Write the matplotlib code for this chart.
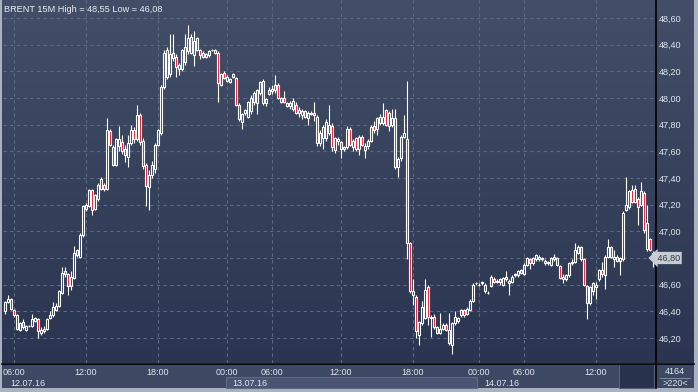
import numpy as np
import matplotlib
matplotlib.use('Agg')
from matplotlib import pyplot as plt
from matplotlib import transforms
from matplotlib.colors import LinearSegmentedColormap
from matplotlib.patches import Rectangle
from matplotlib.ticker import FuncFormatter

plt.rcParams['font.family'] = ['Liberation Sans', 'DejaVu Sans']

# BRENT 15M candles, 12.07.16 06:00 .. 14.07.16 ~14:00 (one row per session block)
opens = [
    46.40, 46.47, 46.49, 46.41, 46.37, 46.26, 46.32, 46.26, 46.29, 46.29, 46.33, 46.34, 46.24, 46.25, 46.27, 46.35, 46.37, 46.41, 46.44, 46.54, 46.70, 46.68, 46.59, 46.65, 46.86, 46.81, 46.97,
    47.17, 47.19, 47.31, 47.17, 47.24, 47.32, 47.35, 47.32, 47.75, 47.63, 47.50, 47.64, 47.67, 47.62, 47.56, 47.66, 47.76, 47.69, 47.87, 47.68, 47.50, 47.33, 47.42, 47.47,
    47.65, 47.74, 48.08, 48.36, 48.18, 48.30, 48.31, 48.22, 48.22, 48.27, 48.35, 48.46, 48.32, 48.45, 48.36, 48.34, 48.31, 48.32, 48.36, 48.36, 48.34, 48.10, 48.19,
    48.13, 48.12, 48.16, 48.15, 47.95, 47.82, 47.89, 47.86, 47.90, 47.97, 47.96, 48.04, 48.13, 47.96, 48.06, 48.05,
    48.10, 48.10, 47.97, 48.00, 47.96, 47.94, 47.92, 47.95, 47.89, 47.87, 47.90, 47.85, 47.88, 47.89, 47.86, 47.66, 47.70, 47.70, 47.74, 47.79, 47.61, 47.68, 47.67,
    47.62, 47.63, 47.77, 47.63, 47.70, 47.62, 47.71, 47.61, 47.64, 47.68, 47.79, 47.77, 47.81, 47.81, 47.91, 47.79, 47.80, 47.85, 47.48, 47.55, 47.71, 47.69, 46.91,
    46.55, 46.51, 46.22, 46.31, 46.35, 46.58, 46.35, 46.36, 46.28, 46.24, 46.27, 46.30, 46.26, 46.15, 46.31, 46.33, 46.37, 46.41, 46.38, 46.41, 46.48, 46.61, 46.60, 46.61, 46.60, 46.54, 46.59,
    46.64, 46.62, 46.62, 46.60, 46.66, 46.61, 46.62, 46.67, 46.67, 46.71, 46.68,
    46.75, 46.79, 46.76, 46.79, 46.81, 46.79, 46.78, 46.77, 46.75, 46.79, 46.80, 46.74, 46.66, 46.64, 46.67, 46.76, 46.77, 46.84, 46.88, 46.79, 46.59, 46.46, 46.55, 46.58,
    46.64, 46.71, 46.67, 46.81, 46.88, 46.79, 46.81, 46.78, 46.79, 47.16, 47.18, 47.31, 47.22, 47.24, 47.20, 47.29, 46.87, 46.94, 46.84,
]
highs = [
    46.48, 46.52, 46.50, 46.42, 46.38, 46.32, 46.34, 46.30, 46.30, 46.38, 46.36, 46.35, 46.28, 46.29, 46.35, 46.40, 46.47, 46.46, 46.56, 46.73, 46.73, 46.69, 46.70, 46.89, 46.87, 46.99, 47.20,
    47.21, 47.32, 47.32, 47.28, 47.36, 47.41, 47.36, 47.85, 47.77, 47.65, 47.70, 47.79, 47.72, 47.65, 47.72, 47.80, 47.78, 47.95, 47.89, 47.70, 47.51, 47.46, 47.53, 47.66,
    47.77, 48.10, 48.36, 48.38, 48.48, 48.48, 48.33, 48.26, 48.37, 48.48, 48.55, 48.48, 48.50, 48.46, 48.37, 48.35, 48.34, 48.36, 48.37, 48.37, 48.35, 48.19, 48.20,
    48.17, 48.15, 48.19, 48.16, 47.96, 47.89, 47.92, 47.98, 48.02, 48.05, 48.07, 48.13, 48.14, 48.00, 48.08, 48.10,
    48.17, 48.11, 48.01, 48.05, 47.97, 47.98, 48.00, 47.97, 47.93, 47.92, 47.91, 47.90, 47.90, 47.97, 47.87, 47.76, 47.80, 47.84, 47.95, 47.81, 47.71, 47.71, 47.68,
    47.64, 47.79, 47.78, 47.69, 47.71, 47.72, 47.72, 47.66, 47.69, 47.80, 47.83, 47.86, 47.88, 47.96, 47.92, 47.90, 47.92, 47.92, 47.56, 47.72, 47.87, 48.13, 46.92,
    46.64, 46.52, 46.33, 46.48, 46.64, 46.60, 46.37, 46.38, 46.29, 46.39, 46.31, 46.31, 46.39, 46.32, 46.40, 46.36, 46.42, 46.42, 46.43, 46.49, 46.61, 46.62, 46.61, 46.63, 46.61, 46.55, 46.67,
    46.66, 46.64, 46.65, 46.66, 46.70, 46.64, 46.67, 46.69, 46.71, 46.72, 46.76,
    46.81, 46.80, 46.81, 46.83, 46.82, 46.81, 46.79, 46.78, 46.81, 46.83, 46.81, 46.75, 46.68, 46.68, 46.77, 46.79, 46.91, 46.90, 46.89, 46.80, 46.60, 46.59, 46.62, 46.62,
    46.72, 46.77, 46.82, 46.94, 46.89, 46.86, 46.82, 46.81, 47.15, 47.41, 47.31, 47.35, 47.35, 47.26, 47.37, 47.30, 47.20, 46.95, 46.85,
]
lows = [
    46.38, 46.46, 46.41, 46.36, 46.26, 46.25, 46.27, 46.25, 46.28, 46.28, 46.32, 46.20, 46.22, 46.24, 46.26, 46.34, 46.36, 46.40, 46.43, 46.53, 46.66, 46.52, 46.56, 46.64, 46.81, 46.80, 46.96,
    47.15, 47.18, 47.12, 47.16, 47.23, 47.31, 47.30, 47.31, 47.64, 47.49, 47.49, 47.60, 47.58, 47.52, 47.48, 47.65, 47.66, 47.68, 47.65, 47.47, 47.19, 47.16, 47.40, 47.44,
    47.64, 47.72, 48.07, 48.14, 48.16, 48.28, 48.16, 48.17, 48.20, 48.25, 48.33, 48.33, 48.24, 48.35, 48.29, 48.30, 48.30, 48.31, 48.35, 48.33, 47.97, 48.09, 48.14,
    48.12, 48.11, 48.15, 47.94, 47.83, 47.77, 47.87, 47.85, 47.88, 47.95, 47.88, 48.02, 47.95, 47.94, 48.02, 48.03,
    48.04, 47.99, 47.96, 47.96, 47.93, 47.92, 47.90, 47.88, 47.86, 47.84, 47.85, 47.80, 47.87, 47.83, 47.64, 47.64, 47.62, 47.68, 47.72, 47.60, 47.59, 47.65, 47.55,
    47.60, 47.62, 47.64, 47.60, 47.60, 47.57, 47.64, 47.55, 47.62, 47.67, 47.74, 47.72, 47.80, 47.80, 47.79, 47.75, 47.78, 47.47, 47.41, 47.53, 47.70, 46.79, 46.54,
    46.45, 46.20, 46.15, 46.30, 46.34, 46.30, 46.21, 46.27, 46.23, 46.23, 46.26, 46.25, 46.15, 46.08, 46.30, 46.31, 46.36, 46.36, 46.37, 46.40, 46.47, 46.60, 46.59, 46.60, 46.54, 46.53, 46.58,
    46.61, 46.61, 46.60, 46.59, 46.63, 46.52, 46.61, 46.66, 46.66, 46.68, 46.67,
    46.74, 46.72, 46.75, 46.78, 46.78, 46.78, 46.75, 46.75, 46.74, 46.78, 46.74, 46.64, 46.61, 46.63, 46.66, 46.75, 46.76, 46.83, 46.78, 46.59, 46.34, 46.45, 46.52, 46.49,
    46.63, 46.66, 46.57, 46.80, 46.80, 46.73, 46.77, 46.67, 46.78, 47.15, 47.17, 47.21, 47.21, 47.05, 47.19, 46.99, 46.85, 46.85, 46.73,
]
closes = [
    46.47, 46.49, 46.42, 46.37, 46.27, 46.31, 46.28, 46.29, 46.29, 46.34, 46.35, 46.25, 46.26, 46.27, 46.34, 46.37, 46.43, 46.44, 46.55, 46.69, 46.68, 46.59, 46.66, 46.84, 46.82, 46.97, 47.19,
    47.20, 47.31, 47.16, 47.27, 47.35, 47.39, 47.32, 47.76, 47.65, 47.50, 47.69, 47.69, 47.60, 47.57, 47.66, 47.76, 47.69, 47.87, 47.67, 47.49, 47.34, 47.42, 47.50, 47.65,
    47.76, 48.08, 48.34, 48.16, 48.33, 48.34, 48.23, 48.25, 48.36, 48.38, 48.45, 48.34, 48.43, 48.36, 48.32, 48.31, 48.33, 48.35, 48.36, 48.34, 48.11, 48.18, 48.15,
    48.16, 48.14, 48.18, 47.95, 47.84, 47.88, 47.91, 47.97, 48.00, 48.04, 48.06, 48.12, 47.96, 47.99, 48.03, 48.07,
    48.06, 48.00, 48.00, 47.97, 47.94, 47.96, 47.98, 47.89, 47.91, 47.90, 47.86, 47.89, 47.89, 47.87, 47.66, 47.74, 47.78, 47.82, 47.80, 47.63, 47.70, 47.69, 47.62,
    47.63, 47.77, 47.65, 47.68, 47.62, 47.71, 47.65, 47.64, 47.68, 47.78, 47.76, 47.85, 47.86, 47.86, 47.80, 47.89, 47.85, 47.48, 47.54, 47.71, 47.74, 46.91, 46.55,
    46.52, 46.25, 46.32, 46.43, 46.56, 46.36, 46.36, 46.28, 46.24, 46.27, 46.30, 46.26, 46.16, 46.31, 46.36, 46.35, 46.41, 46.37, 46.42, 46.48, 46.60, 46.61, 46.60, 46.62, 46.55, 46.54, 46.66,
    46.62, 46.63, 46.64, 46.65, 46.64, 46.63, 46.66, 46.68, 46.70, 46.69, 46.75,
    46.80, 46.76, 46.80, 46.82, 46.79, 46.80, 46.76, 46.76, 46.80, 46.81, 46.75, 46.65, 46.64, 46.67, 46.76, 46.77, 46.86, 46.88, 46.79, 46.60, 46.46, 46.58, 46.61, 46.60,
    46.71, 46.68, 46.81, 46.88, 46.81, 46.81, 46.78, 46.80, 47.14, 47.20, 47.30, 47.22, 47.32, 47.18, 47.30, 47.01, 47.06, 46.86, 46.81,
]

tick_pos = [3, 27, 51, 74, 89, 112, 136, 158, 173, 197]
tick_lab = ['06:00', '12:00', '18:00', '00:00', '06:00', '12:00', '18:00', '00:00', '06:00', '12:00']
day_start = [0, 74, 158]
day_lab = ['12.07.16', '13.07.16', '14.07.16']
price_ticks = [46.2, 46.4, 46.6, 46.8, 47.0, 47.2, 47.4, 47.6, 47.8, 48.0, 48.2, 48.4, 48.6]
last_price = 46.80
title = 'BRENT 15M High = 48,55 Low = 46,08'
bar_total = '4164'
bar_shown = '>220<'

W, H = 698, 392
fig = plt.figure(figsize=(W / 100, H / 100), dpi=100, facecolor='#aab2c0')

def px_axes(x, y, w, h):
    return fig.add_axes([x / W, 1 - (y + h) / H, w / W, h / H])

def price_fmt(v, pos=None):
    return f'{v:.2f}'.replace('.', ',')

# main price area
ax = px_axes(3, 0, 652, 363)
ax.set_facecolor('none')
ax.set_zorder(2)
ax.set_xlim(-0.67, 216.67)
ax.set_ylim(46.0125, 48.735)

# background panels drawn in figure pixels
bg = fig.add_axes([0, 0, 1, 1])
bg.set_zorder(0)
bg.set_xlim(0, W)
bg.set_ylim(H, 0)
bg.axis('off')
grad = LinearSegmentedColormap.from_list('bg', ['#434f68', '#36415b', '#2b3551'])
bg.imshow(np.linspace(0, 1, 256).reshape(-1, 1), extent=(2, 694, 363, 0), cmap=grad, aspect='auto')
bg.add_patch(Rectangle((2, 364), 692, 24, facecolor='#3d4962', edgecolor='none'))

o = np.array(opens)
h = np.array(highs)
l = np.array(lows)
c = np.array(closes)
x = np.arange(len(o))
up = c >= o
top = np.maximum(o, c)
bot = np.minimum(o, c)

ax.vlines(x, top, h, color='white', lw=0.8, zorder=3)
ax.vlines(x, l, bot, color='white', lw=0.8, zorder=3)
ax.bar(x[up], (top - bot)[up], bottom=bot[up], width=0.58, facecolor='none',
       edgecolor='white', lw=0.8, zorder=4)
ax.bar(x[~up], (top - bot)[~up], bottom=bot[~up], width=0.58, facecolor='#e8112d',
       edgecolor='white', lw=0.8, zorder=4)

ax.set_yticks(price_ticks)
ax.set_xticks(tick_pos, tick_lab)
ax.grid(True, color='#5d6a86', lw=0.8, linestyle=(0, (3, 3)))
ax.set_axisbelow(True)
ax.yaxis.tick_right()
# the last price marker takes the place of its own scale label
ax.yaxis.set_major_formatter(FuncFormatter(
    lambda v, p: '' if abs(v - last_price) < 1e-6 else price_fmt(v)))
ax.tick_params(axis='y', length=0, pad=3, labelsize=6.5, labelcolor='#dfe6ef')
ax.tick_params(axis='x', length=0, pad=3.5, labelsize=6.5, labelcolor='#dfe6ef')
for s in ax.spines.values():
    s.set_visible(False)

ax.text(0.002, 0.985, title, transform=ax.transAxes, ha='left', va='top',
        fontsize=6.6, color='#e8eef5')

# last price marker on the scale
ax.text(1.0, last_price, ' ' + price_fmt(last_price),
        transform=transforms.blended_transform_factory(ax.transAxes, ax.transData),
        ha='left', va='center', fontsize=6.5, color='#333842', zorder=6, clip_on=False,
        bbox=dict(boxstyle='larrow,pad=0.18', facecolor='#c9ccd2', edgecolor='none'))

# date row
fig.canvas.draw()
to_px = lambda i: ax.transData.transform((i, 0))[0]
d1 = to_px(day_start[1] - 0.5)
d2 = to_px(day_start[2] - 0.5)
bg.add_patch(Rectangle((d1, 377), d2 - d1, 11, facecolor='#4a5671', edgecolor='#5f6b85', lw=0.8))
for ds, lab in zip(day_start, day_lab):
    bg.text(to_px(ds) + 5, 383, lab, ha='left', va='center', fontsize=6.5, color='#dfe6ef')

# scroll box and bar counter
bg.add_patch(Rectangle((619, 364), 35, 24, facecolor='#29324c', edgecolor='#556079', lw=0.8))
bg.text(675, 371, bar_total, ha='center', va='center', fontsize=6.5, color='#dfe6ef')
bg.plot([660, 690], [378, 378], color='#8a96aa', lw=0.6)
bg.text(675, 384, bar_shown, ha='center', va='center', fontsize=6.5, color='#dfe6ef')

# black separators
bg.plot([655.5, 655.5], [0, 388], color='black', lw=1.2)
bg.plot([2, 694], [363.5, 363.5], color='black', lw=1.2)

fig.savefig('out.png', dpi=100, facecolor=fig.get_facecolor())
